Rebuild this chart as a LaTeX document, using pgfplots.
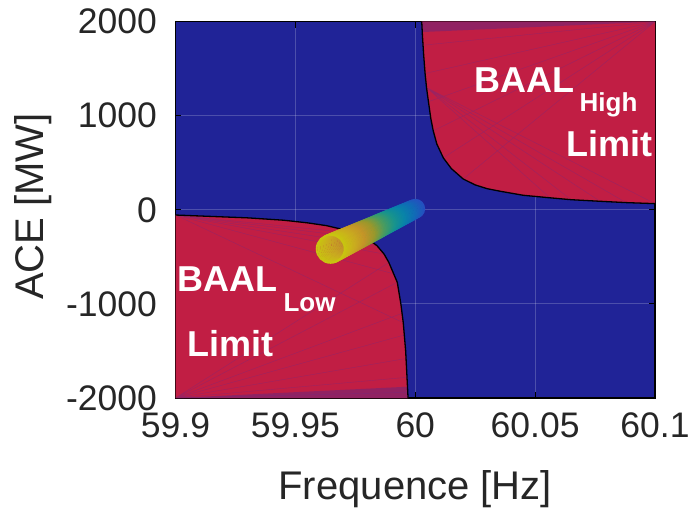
\documentclass[border=0pt]{standalone}
\usepackage{pgfplots}
\usepackage{pgfplotstable}
\pgfplotsset{compat=1.18}
\usepackage{fontspec}
\setmainfont{Liberation Sans}

\definecolor{bgblue}{HTML}{202397}
\definecolor{baalred}{HTML}{C11E44}
\definecolor{fanline}{HTML}{6E2A86}
\definecolor{wedge}{HTML}{86246A}
\definecolor{ticktext}{HTML}{262626}

% grid under the patches, ticks and box above them
\pgfplotsset{
  layers/baal/.define layer set={axis background,axis grid,pre main,main,axis ticks,axis lines,axis tick labels,axis descriptions,axis foreground}{},
}

% low limit boundary (Hz, MW)
\pgfplotstableread{
f ace
59.9000 -55
59.9150 -70
59.9300 -85
59.9450 -110
59.9550 -138
59.9630 -168
59.9700 -210
59.9750 -250
59.9800 -305
59.9840 -380
59.9870 -470
59.9890 -560
59.9910 -680
59.9925 -770
59.9940 -1000
59.9950 -1200
59.9960 -1500
59.9967 -1850
59.9970 -2000
}\lowcurve

% high limit boundary
\pgfplotstableread{
f ace
60.0027 2000
60.0030 1850
60.0035 1650
60.0041 1450
60.0047 1300
60.0055 1150
60.0065 970
60.0075 840
60.0090 700
60.0117 553
60.0150 440
60.0200 328
60.0250 265
60.0300 225
60.0354 198
60.0450 155
60.0562 128
60.0650 108
60.0771 91
60.0880 77
60.1000 66
}\highcurve

% trajectory, drawn from the blue end to the yellow end
\pgfplotstableread{
f ace i r
60.0000 12.0 0 9.00
59.9994 4.8 1 9.08
59.9988 -2.5 2 9.17
59.9982 -9.7 3 9.25
59.9976 -16.9 4 9.34
59.9970 -24.2 5 9.42
59.9964 -31.4 6 9.51
59.9958 -38.7 7 9.59
59.9952 -45.9 8 9.68
59.9946 -53.1 9 9.76
59.9940 -60.4 10 9.85
59.9934 -67.6 11 9.93
59.9928 -74.8 12 10.02
59.9922 -82.1 13 10.10
59.9916 -89.3 14 10.19
59.9910 -96.6 15 10.27
59.9904 -103.8 16 10.36
59.9898 -111.0 17 10.44
59.9892 -118.3 18 10.52
59.9886 -125.5 19 10.61
59.9880 -132.7 20 10.69
59.9874 -140.0 21 10.78
59.9868 -147.2 22 10.86
59.9862 -154.5 23 10.95
59.9856 -161.7 24 11.03
59.9850 -168.9 25 11.12
59.9845 -176.2 26 11.20
59.9839 -183.4 27 11.29
59.9833 -190.6 28 11.37
59.9827 -197.9 29 11.46
59.9821 -205.1 30 11.54
59.9815 -212.3 31 11.63
59.9809 -219.6 32 11.71
59.9803 -226.8 33 11.80
59.9797 -234.1 34 11.88
59.9791 -241.3 35 11.96
59.9785 -248.5 36 12.05
59.9779 -255.8 37 12.13
59.9773 -263.0 38 12.22
59.9767 -270.2 39 12.30
59.9761 -277.5 40 12.39
59.9755 -284.7 41 12.47
59.9749 -292.0 42 12.56
59.9743 -299.2 43 12.64
59.9737 -306.4 44 12.73
59.9731 -313.7 45 12.81
59.9725 -320.9 46 12.90
59.9719 -328.1 47 12.98
59.9713 -335.4 48 13.07
59.9707 -342.6 49 13.15
59.9701 -349.9 50 13.24
59.9695 -357.1 51 13.32
59.9689 -364.3 52 13.40
59.9683 -371.6 53 13.49
59.9677 -378.8 54 13.57
59.9671 -386.0 55 13.66
59.9665 -393.3 56 13.74
59.9659 -400.5 57 13.83
59.9653 -407.7 58 13.91
59.9647 -415.0 59 14.00
}\trail

\begin{document}
\begin{tikzpicture}
\begin{axis}[
    set layers=baal,
    scale only axis,
    width=479.5pt, height=376.3pt,
    xmin=59.9, xmax=60.1,
    ymin=-2000, ymax=2000,
    xtick={59.9,59.95,60,60.05,60.1},
    xticklabels={59.9,59.95,60,60.05,60.1},
    ytick={-2000,-1000,0,1000,2000},
    yticklabels={-2000,-1000,0,1000,2000},
    axis background/.style={fill=bgblue},
    grid=major,
    grid style={white, opacity=0.2, line width=1pt},
    tick align=inside,
    major tick length=6pt,
    tick style={black, line width=1pt},
    axis line style={black, line width=1.2pt},
    ticklabel style={font=\fontsize{35.5}{40}\selectfont, text=ticktext, inner sep=0pt},
    xticklabel style={anchor=north, yshift=-15pt},
    yticklabel style={anchor=east, xshift=-18.5pt},
    xlabel={Frequence [Hz]},
    ylabel={ACE [MW]},
    label style={font=\fontsize{40}{44}\selectfont, text=ticktext, inner sep=0pt},
    xlabel style={at={(axis description cs:0.5,-0.2684)}, anchor=base},
    ylabel style={at={(axis description cs:-0.2757,0.509)}, anchor=base},
    colormap={trail}{rgb255=(45,100,240) rgb255=(20,135,228) rgb255=(10,165,210) rgb255=(30,185,175) rgb255=(90,195,120) rgb255=(190,190,55) rgb255=(245,185,50) rgb255=(252,215,38) rgb255=(250,245,20)},
    point meta min=0, point meta max=59,
    unbounded coords=jump,
]
% BAAL low region
\addplot[fill=baalred, draw=none] coordinates {
  (59.9,-2000) (59.9000,-55) (59.9150,-70) (59.9300,-85) (59.9450,-110)
  (59.9550,-138) (59.9630,-168) (59.9700,-210) (59.9750,-250) (59.9800,-305)
  (59.9840,-380) (59.9870,-470) (59.9890,-560) (59.9910,-680) (59.9925,-770)
  (59.9940,-1000) (59.9950,-1200) (59.9960,-1500) (59.9967,-1850) (59.9970,-2000)};
% BAAL high region
\addplot[fill=baalred, draw=none] coordinates {
  (60.1,2000) (60.0027,2000) (60.0030,1850) (60.0035,1650) (60.0041,1450)
  (60.0047,1300) (60.0055,1150) (60.0065,970) (60.0075,840) (60.0090,700)
  (60.0117,553) (60.0150,440) (60.0200,328) (60.0250,265) (60.0300,225)
  (60.0354,198) (60.0450,155) (60.0562,128) (60.0650,108) (60.0771,91)
  (60.0880,77) (60.1000,66)};

% darker shading bands of the patches
\addplot[fill=wedge, draw=none, opacity=0.8] coordinates {(59.9,-2000) (59.9967,-1880) (59.9970,-2000)};
\addplot[fill=wedge, draw=none, opacity=0.8] coordinates {(60.0027,2000) (60.0030,1890) (60.1,2000)};

% faint fan lines inside the patches
\addplot[fanline, opacity=0.45, line width=0.4pt] coordinates {
  (59.9,-2000) (59.9969,-1940) (nan,nan)
  (59.9,-2000) (59.9966,-1780) (nan,nan)
  (59.9,-2000) (59.9962,-1580) (nan,nan)
  (59.9,-2000) (59.9955,-1330) (nan,nan)
  (59.9,-2000) (59.9945,-1100) (nan,nan)
  (59.9,-2000) (59.9925,-770) (nan,nan)
  (59.9,-2000) (59.9890,-560) (nan,nan)
  (59.9,-55) (59.9750,-250) (nan,nan)
  (59.9,-55) (59.9800,-305) (nan,nan)
  (59.9,-55) (59.9840,-380) (nan,nan)
  (59.9,-55) (59.9870,-470) (nan,nan)
  (59.9,-55) (59.9910,-680) (nan,nan)
  (59.9,-55) (59.9950,-1200)};
\addplot[fanline, opacity=0.45, line width=0.4pt] coordinates {
  (60.1,2000) (60.0032,1750) (nan,nan)
  (60.1,2000) (60.0041,1450) (nan,nan)
  (60.1,2000) (60.0055,1150) (nan,nan)
  (60.1,2000) (60.0075,840) (nan,nan)
  (60.1,2000) (60.0117,553) (nan,nan)
  (60.1,2000) (60.0200,328) (nan,nan)
  (60.0047,1300) (60.1000,66) (nan,nan)
  (60.0047,1300) (60.0880,77) (nan,nan)
  (60.0047,1300) (60.0771,91) (nan,nan)
  (60.0047,1300) (60.0650,108) (nan,nan)
  (60.0047,1300) (60.0562,128)};

% boundary curves
\addplot[black, line width=1.3pt] table[x=f, y=ace] {\lowcurve};
\addplot[black, line width=1.3pt] table[x=f, y=ace] {\highcurve};

% trajectory
\addplot[scatter, only marks, mark=o, scatter src=explicit,
    visualization depends on={\thisrow{r}\as\rad},
    scatter/@pre marker code/.append style={/tikz/mark size=\rad},
    mark options={line width=1.8pt}]
  table[x=f, y=ace, meta=i] {\trail};

\node[anchor=base west, text=white, font=\fontsize{36}{40}\selectfont\bfseries] at (axis cs:59.8992,-865) {BAAL};
\node[anchor=base west, text=white, font=\fontsize{26}{30}\selectfont\bfseries] at (axis cs:59.9436,-1078) {Low};
\node[anchor=base west, text=white, font=\fontsize{36}{40}\selectfont\bfseries] at (axis cs:59.9035,-1556) {Limit};
\node[anchor=base west, text=white, font=\fontsize{36}{40}\selectfont\bfseries] at (axis cs:60.0233,1244) {BAAL};
\node[anchor=base west, text=white, font=\fontsize{26}{30}\selectfont\bfseries] at (axis cs:60.0671,1048) {High};
\node[anchor=base west, text=white, font=\fontsize{36}{40}\selectfont\bfseries] at (axis cs:60.0616,570) {Limit};
\end{axis}
\pgfresetboundingbox
\path (-175.5pt,-114pt) rectangle (516.5pt,398pt);
\end{tikzpicture}
\end{document}
